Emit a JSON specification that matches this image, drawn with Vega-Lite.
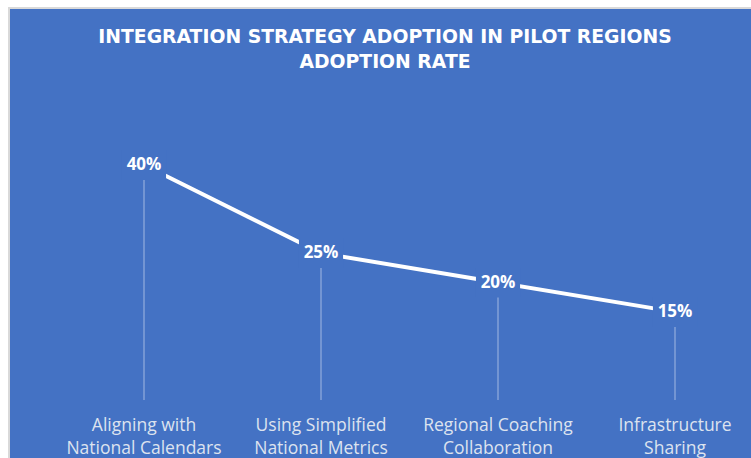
{
  "$schema": "https://vega.github.io/schema/vega-lite/v6.json",
  "width": 744,
  "height": 452,
  "padding": {"left": 9, "top": 8, "right": 0, "bottom": 0},
  "autosize": {"type": "none"},
  "background": "#ffffff",
  "config": {"view": {"fill": "#4472C4", "stroke": "#d9d9d9", "strokeWidth": 2}},
  "title": {
    "text": ["INTEGRATION STRATEGY ADOPTION IN PILOT REGIONS", "ADOPTION RATE"],
    "color": "#ffffff",
    "font": "DejaVu Sans",
    "fontSize": 18.8,
    "fontWeight": "bold",
    "lineHeight": 25,
    "anchor": "middle",
    "frame": "group",
    "offset": -64,
    "dx": 4
  },
  "data": {
    "values": [
      {"strategy": "Aligning with National Calendars", "rate": 0.40},
      {"strategy": "Using Simplified National Metrics", "rate": 0.25},
      {"strategy": "Regional Coaching Collaboration", "rate": 0.20},
      {"strategy": "Infrastructure Sharing", "rate": 0.15}
    ]
  },
  "encoding": {
    "x": {
      "field": "strategy",
      "type": "nominal",
      "sort": null,
      "scale": {"type": "band", "paddingInner": 0.8, "paddingOuter": 0.5017, "align": 0.6605},
      "axis": {
        "title": null,
        "orient": "bottom",
        "offset": -44,
        "domain": false,
        "ticks": false,
        "grid": false,
        "labelAngle": 0,
        "labelPadding": 0,
        "labelBaseline": "top",
        "labelFont": "Open Sans",
        "labelFontSize": 17.5,
        "labelLineHeight": 23,
        "labelColor": "#dde3ef",
        "labelLimit": 300,
        "labelExpr": "{'Aligning with National Calendars': ['Aligning with', 'National Calendars'], 'Using Simplified National Metrics': ['Using Simplified', 'National Metrics'], 'Regional Coaching Collaboration': ['Regional Coaching', 'Collaboration'], 'Infrastructure Sharing': ['Infrastructure', 'Sharing']}[datum.value]"
      }
    },
    "y": {
      "field": "rate",
      "type": "quantitative",
      "scale": {"domain": [-0.1021, 0.6672], "nice": false, "zero": false},
      "axis": null
    }
  },
  "layer": [
    {
      "mark": {"type": "rule", "color": "#ffffff", "opacity": 0.5, "strokeWidth": 1},
      "encoding": {"y2": {"datum": 0}}
    },
    {
      "mark": {"type": "line", "color": "#ffffff", "strokeWidth": 4, "strokeCap": "butt"},
      "encoding": {}
    },
    {
      "mark": {"type": "point", "shape": "M-1.47,-1L1.47,-1L1.47,1L-1.47,1Z", "size": 900, "filled": true, "color": "#4472C4", "opacity": 1, "strokeWidth": 0},
      "encoding": {}
    },
    {
      "mark": {"type": "text", "font": "Open Sans", "fontWeight": "bold", "fontSize": 17, "color": "#ffffff", "baseline": "middle", "align": "center"},
      "encoding": {"text": {"field": "rate", "type": "quantitative", "format": ".0%"}}
    }
  ]
}
